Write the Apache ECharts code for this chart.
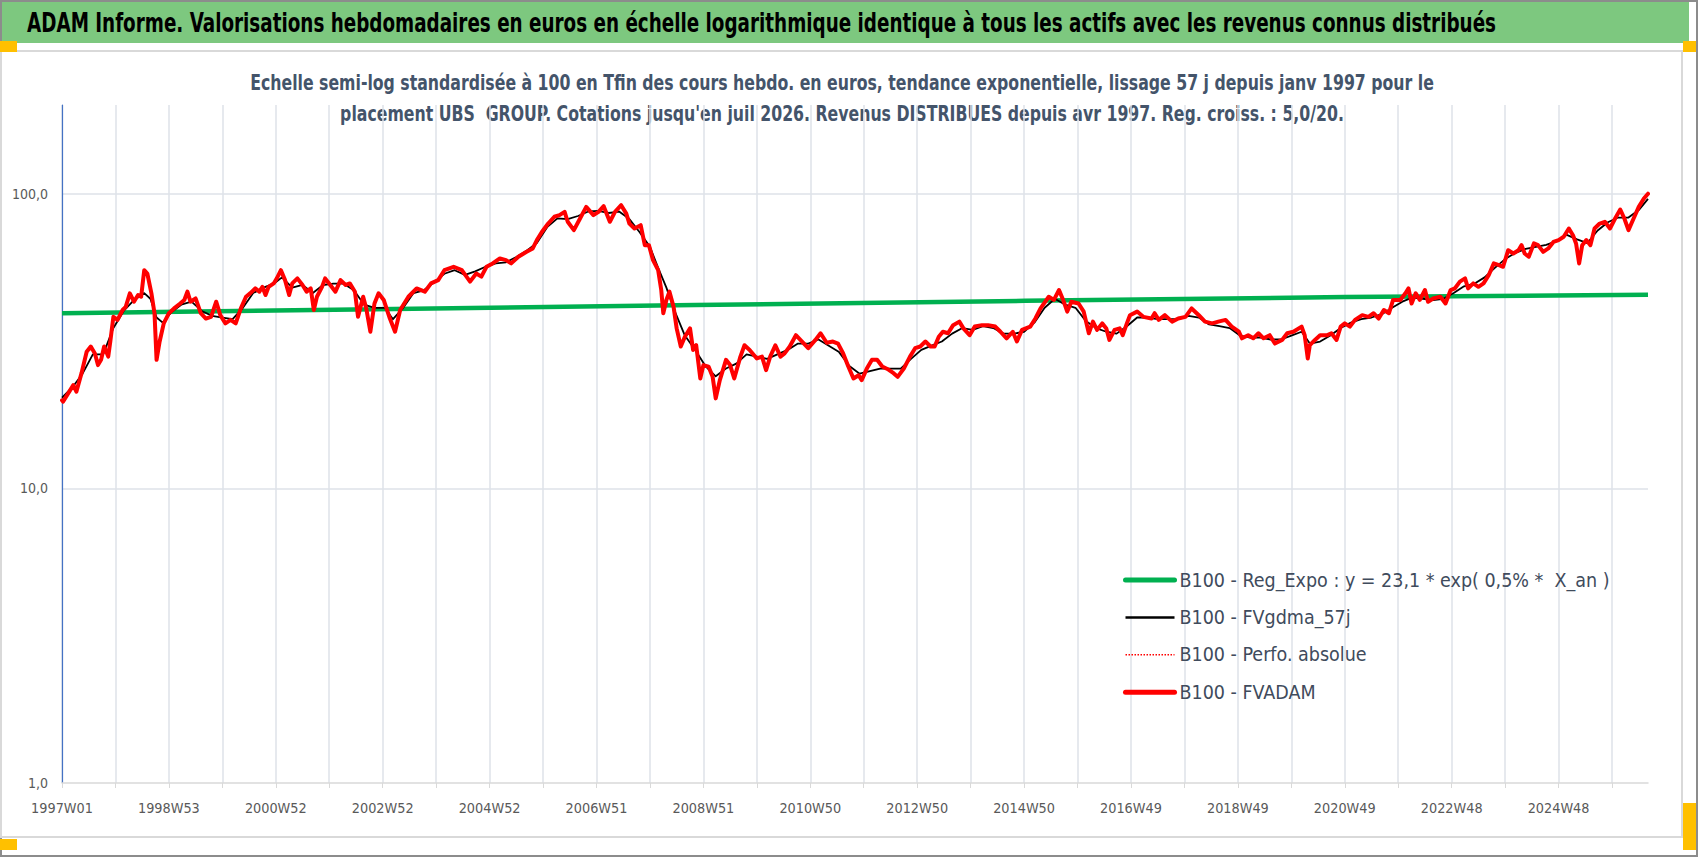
<!DOCTYPE html>
<html>
<head>
<meta charset="utf-8">
<title>ADAM Informe - UBS GROUP</title>
<script src="https://cdn.jsdelivr.net/npm/echarts@6.0.0/dist/echarts.min.js"></script>
<style>
    html, body { margin: 0; padding: 0; background: #fff; }
    #chart { width: 1698px; height: 857px; }
</style>
</head>
<body>
<div id="chart"></div>
<script>
var FONT = "'Liberation Sans Narrow', 'DejaVu Sans Condensed', 'Noto Sans', sans-serif";

var titleText = 'ADAM Informe. Valorisations hebdomadaires en euros en échelle logarithmique identique à tous les actifs avec les revenus connus distribués';
var subtitleLines = [
    'Echelle semi-log standardisée à 100 en Tfin des cours hebdo. en euros, tendance exponentielle, lissage 57 j depuis janv 1997 pour le',
    "placement UBS  GROUP. Cotations jusqu'en juil 2026. Revenus DISTRIBUES depuis avr 1997. Reg. croiss. : 5,0/20."
];
var seriesNames = [
    'B100 - Reg_Expo : y = 23,1 * exp( 0,5% *  X_an )',
    'B100 - FVgdma_57j',
    'B100 - Perfo. absolue',
    'B100 - FVADAM'
];

// categories : semaines ISO depuis 1997W01 (1544 semaines, jusqu'a 2026W31)
var firstYear = 1997;
var weekCount = 1544;
var yTicks = [1, 10, 100];

// [index semaine, valeur]
var regExpoPoints = [[0, 39.3], [304, 40.5], [616, 41.9], [937, 43.3], [1248, 44.6], [1543, 45.4]];

var fvadamPoints = [
    [0,19.9],[1,19.7],[6,21.0],[11,22.4],[14,21.3],[19,24.6],[24,29.1],[28,30.3],[32,28.7],[35,26.2],
    [38,27.3],[41,30.3],[45,28.0],[47,31.5],[50,38.2],[54,37.3],[59,40.3],[62,41.3],[66,45.9],[70,43.0],
    [74,45.3],[77,44.7],[80,55.0],[83,53.6],[87,45.9],[90,39.3],[92,27.3],[95,31.5],[99,36.3],[104,39.3],
    [109,40.8],[115,42.4],[119,43.6],[122,46.5],[125,43.0],[130,44.1],[135,39.3],[140,37.7],[145,38.2],[150,43.0],
    [154,38.7],[159,36.3],[164,37.3],[169,36.3],[174,40.8],[179,44.7],[183,45.9],[188,47.7],[192,46.5],[195,48.3],
    [198,45.3],[201,48.3],[206,49.6],[209,51.6],[213,55.0],[217,50.9],[221,45.3],[224,49.6],[229,51.6],[234,49.0],
    [238,46.5],[242,47.7],[245,40.3],[248,44.7],[253,48.3],[256,51.6],[261,49.0],[266,46.5],[271,50.9],[276,49.0],
    [280,49.6],[285,46.5],[288,38.2],[293,44.7],[296,40.8],[300,34.0],[304,42.4],[308,45.9],[313,43.6],[319,37.7],
    [324,34.0],[329,40.3],[337,44.7],[345,47.7],[353,46.5],[359,49.6],[366,50.9],[372,55.0],[381,56.5],[389,55.0],
    [397,50.3],[403,53.6],[408,52.3],[413,56.5],[419,58.0],[426,60.3],[432,59.5],[437,58.0],[444,61.1],[452,63.5],
    [458,65.2],[462,69.6],[467,74.3],[473,79.2],[479,83.5],[484,84.6],[489,86.8],[492,80.3],[498,75.2],[504,82.4],
    [510,90.2],[517,84.6],[522,86.8],[527,90.7],[533,80.3],[538,86.8],[544,91.4],[549,85.6],[552,79.2],[557,76.2],
    [563,78.2],[567,66.9],[571,66.9],[575,59.5],[580,55.0],[583,47.1],[585,39.3],[588,43.6],[591,46.5],[595,41.3],
    [598,34.9],[602,30.3],[606,32.7],[611,34.9],[614,29.5],[617,30.6],[621,23.6],[624,26.2],[629,25.9],[633,23.9],
    [636,20.2],[640,23.3],[646,27.3],[650,26.2],[654,23.6],[660,28.0],[664,30.6],[669,29.5],[676,27.6],[681,28.0],
    [685,25.2],[689,28.0],[694,30.6],[699,28.0],[703,28.7],[708,30.3],[714,33.1],[720,31.5],[726,29.9],[733,31.9],
    [738,33.6],[744,31.2],[750,31.5],[755,31.0],[760,28.7],[765,25.9],[770,23.6],[775,24.2],[778,23.3],[783,25.5],
    [788,27.3],[793,27.3],[798,25.9],[804,25.3],[809,24.6],[813,23.9],[819,25.5],[825,28.0],[830,29.9],[835,30.3],
    [840,31.5],[845,30.3],[849,30.3],[853,32.7],[857,34.0],[862,33.6],[867,35.8],[873,36.8],[877,34.9],[883,33.1],
    [888,35.4],[895,35.8],[901,35.8],[908,35.4],[913,34.0],[919,32.3],[925,34.0],[929,31.5],[934,34.5],[942,35.4],
    [947,37.7],[952,40.8],[960,44.7],[965,43.6],[970,47.1],[974,43.6],[978,39.8],[982,43.0],[989,42.4],[994,39.8],
    [999,33.6],[1003,36.8],[1007,34.5],[1012,36.3],[1016,34.9],[1019,31.9],[1024,34.5],[1029,34.9],[1032,33.1],[1036,36.3],
    [1039,38.7],[1046,39.8],[1052,38.2],[1060,37.7],[1063,39.3],[1067,37.3],[1073,38.7],[1080,36.8],[1086,37.7],[1093,38.2],
    [1099,40.8],[1106,38.7],[1112,36.8],[1119,36.3],[1125,36.8],[1132,37.3],[1138,35.4],[1145,34.0],[1148,32.3],[1154,33.1],
    [1159,32.3],[1164,33.6],[1169,32.3],[1175,33.1],[1180,31.0],[1187,31.9],[1192,33.6],[1198,34.0],[1206,35.4],[1209,33.1],
    [1212,27.6],[1214,30.6],[1219,31.9],[1224,33.1],[1231,33.1],[1235,33.6],[1240,31.9],[1244,35.4],[1248,36.3],[1253,35.4],
    [1258,37.3],[1265,38.7],[1271,38.2],[1276,39.3],[1281,37.7],[1286,40.3],[1291,39.3],[1295,43.6],[1302,43.6],[1307,45.9],
    [1310,47.7],[1313,42.4],[1317,45.9],[1321,43.6],[1326,47.1],[1329,43.0],[1334,44.1],[1341,44.7],[1346,42.4],[1351,47.1],
    [1355,47.7],[1360,50.3],[1365,51.6],[1368,47.7],[1373,49.6],[1378,48.3],[1383,49.6],[1388,52.9],[1393,58.0],[1398,57.2],
    [1402,56.5],[1407,64.3],[1412,62.7],[1417,64.3],[1420,66.9],[1423,62.7],[1427,61.1],[1432,67.8],[1436,66.9],[1441,63.5],
    [1446,65.2],[1451,68.6],[1456,69.6],[1461,71.4],[1466,76.2],[1470,72.3],[1473,67.8],[1476,58.0],[1479,66.9],[1483,69.6],
    [1487,66.9],[1491,76.2],[1496,79.2],[1501,80.3],[1506,76.2],[1511,82.4],[1516,88.4],[1520,82.4],[1524,75.2],[1529,82.4],
    [1534,90.2],[1539,96.3],[1543,100.0]
];

var fvgdmaPoints = [
    [0,20.3],[10,22],[20,24.5],[30,28.5],[40,28.5],[50,35],[60,40],[70,43.5],[80,46],[86,44],
    [92,38],[98,36.5],[106,39.5],[116,42],[126,43],[136,40],[146,38.5],[156,38],[166,37.5],[176,41],
    [186,46],[196,48],[206,49.5],[214,52],[224,48],[234,49],[244,46],[254,49],[264,49.5],[274,49.5],
    [284,47],[294,42],[304,41],[314,41],[322,37.5],[332,41],[342,46],[352,47],[362,50],[372,53.5],
    [382,55],[392,53],[402,54.5],[412,56.5],[422,58],[432,58.5],[442,61],[452,64],[462,68],[472,77],
    [482,82.5],[492,82],[502,84],[512,87],[522,87.5],[532,86],[542,87],[552,82],[562,74],[572,66],
    [580,56],[588,48],[596,40],[606,33],[616,29.5],[626,26],[636,24],[646,25.5],[656,26.5],[666,28.5],
    [676,28],[686,27.5],[696,28.5],[706,29.5],[716,31],[726,31],[736,32],[746,30.5],[756,29],[766,26],
    [776,24.5],[786,25],[796,25.5],[806,25.5],[816,25.5],[826,27.5],[836,29.5],[846,30.5],[856,31.5],[866,33.5],
    [876,35],[886,34.5],[896,35.5],[906,35],[916,33.5],[926,33.5],[936,34],[946,36.5],[956,41],[966,44],
    [976,42],[986,41],[996,37],[1006,35],[1016,34],[1026,33.5],[1036,35.5],[1046,38],[1056,38],[1066,37.5],
    [1076,37.5],[1086,37.5],[1096,38.5],[1106,38],[1116,36],[1126,35.5],[1136,35],[1146,33],[1156,32.5],[1166,32.5],
    [1176,32],[1186,32],[1196,33],[1206,34],[1214,31],[1224,31.5],[1234,33],[1244,35],[1254,36.5],[1264,37.5],
    [1274,38],[1284,39],[1294,41],[1304,43],[1314,44.5],[1324,44],[1334,43.5],[1344,44],[1354,46],[1364,48.5],
    [1374,49.5],[1384,52],[1394,56],[1404,60],[1414,63],[1424,65],[1434,66],[1444,67],[1454,69],[1464,72.5],
    [1474,70],[1484,68],[1494,75],[1504,80],[1514,83],[1524,83],[1534,88],[1543,96]
];

// libelles de semaines ISO
function isoWeeksIn(y) {
    var jan1 = new Date(Date.UTC(y, 0, 1)).getUTCDay();
    var leap = (y % 4 === 0 && y % 100 !== 0) || y % 400 === 0;
    return (jan1 === 4 || (leap && jan1 === 3)) ? 53 : 52;
}
var weeks = [];
for (var y = firstYear; weeks.length < weekCount; y++) {
    for (var w = 1, n = isoWeeksIn(y); w <= n && weeks.length < weekCount; w++) {
        weeks.push(y + 'W' + (w < 10 ? '0' : '') + w);
    }
}

// taille de police pour une largeur voulue (pas de Calibri ici)
var measureCtx = document.createElement('canvas').getContext('2d');
function fitSize(text, weight, width) {
    measureCtx.font = weight + ' 100px ' + FONT;
    return Math.round(1000 * width / measureCtx.measureText(text).width) / 10;
}
var titleSize = fitSize(titleText, 'bold', 1472);
var subSize = fitSize(subtitleLines[0], 'bold', 1182);
var legendSize = fitSize(seriesNames[0], 'normal', 430);
var xLabelSize = fitSize('1997W01', 'normal', 62);
var yLabelSize = fitSize('100,0', 'normal', 36);
// Calibri est plus haute que large : on etire le texte en hauteur
var titleStretch = Math.min(1.6, 19 / (0.72 * titleSize));
var subStretch = Math.min(1.6, 15 / (0.72 * subSize));

var myChart = echarts.init(document.getElementById('chart'), null, {renderer: 'svg'});

var option = {
    animation: false,
    backgroundColor: '#ffffff',
    textStyle: { fontFamily: FONT },
    graphic: [
        { type: 'rect', shape: {x: 1, y: 1, width: 1696, height: 855}, style: {fill: 'none', stroke: '#8c8c8c', lineWidth: 2}, silent: true },
        { type: 'rect', shape: {x: 2, y: 2, width: 1687, height: 41}, style: {fill: '#7DC87F'}, silent: true },
        { type: 'rect', shape: {x: 1, y: 51, width: 1681, height: 786}, style: {fill: 'none', stroke: '#D9D9D9', lineWidth: 2}, silent: true },
        { type: 'rect', shape: {x: 0, y: 41, width: 17, height: 11}, style: {fill: '#FFC000'}, silent: true },
        { type: 'rect', shape: {x: 1683, y: 41, width: 13, height: 11}, style: {fill: '#FFC000'}, silent: true },
        { type: 'rect', shape: {x: 0, y: 839, width: 17, height: 11}, style: {fill: '#FFC000'}, silent: true },
        { type: 'rect', shape: {x: 1683, y: 803, width: 13, height: 47}, style: {fill: '#FFC000'}, silent: true },
        {
            type: 'text', x: 27, y: 23, scaleY: titleStretch, silent: true,
            style: { text: titleText, fill: '#000000', font: 'bold ' + titleSize + 'px ' + FONT, align: 'left', verticalAlign: 'middle' }
        },
        {
            type: 'text', x: 842, y: 98, scaleY: subStretch, silent: true,
            style: { text: subtitleLines.join('\n'), fill: '#44546A', font: 'bold ' + subSize + 'px ' + FONT, lineHeight: 31 / subStretch, align: 'center', verticalAlign: 'middle' }
        }
    ],
    legend: {
        orient: 'vertical',
        left: 1118,
        top: 565,
        itemWidth: 49,
        itemHeight: 20,
        itemGap: 17.4,
        selectedMode: false,
        textStyle: { fontSize: legendSize, color: '#404B5C', fontFamily: FONT },
        data: [
            { name: seriesNames[0], itemStyle: { opacity: 0 }, lineStyle: { width: 5, color: '#00B050', cap: 'round' } },
            { name: seriesNames[1], itemStyle: { opacity: 0 }, lineStyle: { width: 2.5, color: '#000000' } },
            { name: seriesNames[2], itemStyle: { opacity: 0 }, lineStyle: { width: 1.5, color: '#FF0000', type: 'dotted' } },
            { name: seriesNames[3], itemStyle: { opacity: 0 }, lineStyle: { width: 5, color: '#FF0000', cap: 'round' } }
        ]
    },
    grid: { left: 62, right: 50, top: 105, bottom: 74, containLabel: false, outerBoundsMode: 'none' },
    xAxis: {
        type: 'category',
        data: weeks,
        boundaryGap: false,
        axisLine: { show: true, lineStyle: { color: '#D9D9D9', width: 1.5 } },
        axisTick: { show: true, interval: 51, length: 5, lineStyle: { color: '#D9D9D9' } },
        axisLabel: {
            interval: function (i) { return i % 104 === 0; },
            color: '#595959', fontSize: xLabelSize, fontFamily: FONT, margin: 25 - xLabelSize / 2
        },
        splitLine: { show: true, interval: 51, lineStyle: { color: '#DEE2E9', width: 1.5 } }
    },
    yAxis: {
        type: 'log',
        logBase: 10,
        min: 1,
        max: 200,
        axisLine: { show: true, onZero: false, lineStyle: { color: '#4472C4', width: 1.2 } },
        axisTick: { show: false },
        axisLabel: {
            color: '#595959', fontSize: yLabelSize, fontFamily: FONT, margin: 14,
            showMaxLabel: false,
            formatter: function (v) {
                for (var k = 0; k < yTicks.length; k++) {
                    if (Math.abs(v - yTicks[k]) < 1e-6 * yTicks[k]) return yTicks[k].toFixed(1).replace('.', ',');
                }
                return '';
            }
        },
        splitLine: { show: true, showMinLine: false, showMaxLine: false, lineStyle: { color: '#DEE2E9', width: 1.5 } }
    },
    series: [
        {
            name: seriesNames[0], type: 'line', data: regExpoPoints, symbol: 'none', silent: true,
            lineStyle: { color: '#00B050', width: 4.5 }, itemStyle: { color: '#00B050' }
        },
        {
            name: seriesNames[1], type: 'line', data: fvgdmaPoints, symbol: 'none', silent: true,
            lineStyle: { color: '#000000', width: 1.8, join: 'round' }, itemStyle: { color: '#000000' }
        },
        {
            name: seriesNames[2], type: 'line', data: fvadamPoints, symbol: 'none', silent: true,
            lineStyle: { color: '#FF0000', width: 1.5, type: 'dotted' }, itemStyle: { color: '#FF0000' }
        },
        {
            name: seriesNames[3], type: 'line', data: fvadamPoints, symbol: 'none', silent: true,
            lineStyle: { color: '#FF0000', width: 4, join: 'round', cap: 'round' }, itemStyle: { color: '#FF0000' }
        }
    ]
};
myChart.setOption(option);
</script>
</body>
</html>
